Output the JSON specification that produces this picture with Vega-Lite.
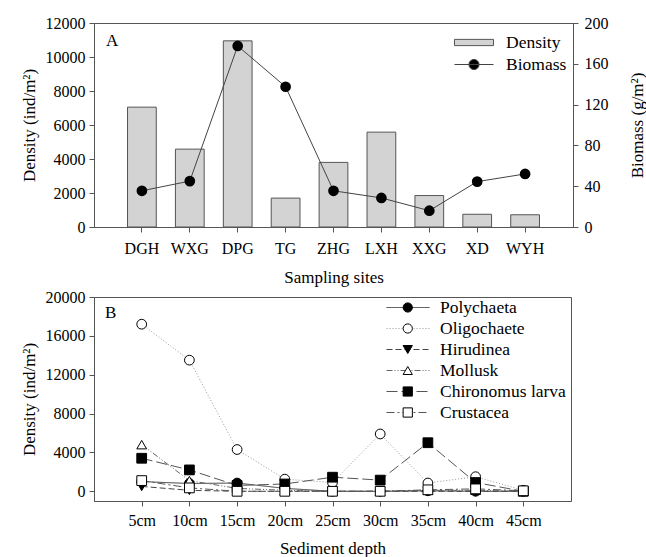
{
  "$schema": "https://vega.github.io/schema/vega-lite/v6.json",
  "background": "white",
  "padding": {"left": 19, "top": 14, "right": 0, "bottom": 5},
  "spacing": 2,
  "resolve": {
    "scale": {"fill": "independent", "stroke": "independent", "strokeDash": "independent", "shape": "independent"},
    "legend": {"fill": "independent", "stroke": "independent", "strokeDash": "independent", "shape": "independent"}
  },
  "config": {
    "font": "Liberation Serif",
    "view": {"stroke": "#555", "strokeWidth": 1},
    "axis": {
      "grid": false,
      "domainColor": "#555",
      "tickColor": "#555",
      "tickSize": 5,
      "labelColor": "#000",
      "titleColor": "#000",
      "labelFont": "Liberation Serif",
      "titleFont": "Liberation Serif",
      "labelFontSize": 16,
      "titleFontSize": 17,
      "titleFontWeight": "normal"
    },
    "legend": {
      "labelFont": "Liberation Serif",
      "labelFontSize": 17.5,
      "labelColor": "#000"
    },
    "title": {"font": "Liberation Serif", "fontSize": 17, "fontWeight": "normal", "color": "#000"}
  },
  "vconcat": [
    {
      "width": 479,
      "height": 204,
      "title": {"text": "A", "anchor": "start", "frame": "group", "offset": -35, "dx": 12},
      "data": {
        "values": [
          {"site": "DGH", "density": 7050, "biomass": 35.5},
          {"site": "WXG", "density": 4580, "biomass": 45},
          {"site": "DPG", "density": 10950, "biomass": 177.5},
          {"site": "TG", "density": 1700, "biomass": 137.5},
          {"site": "ZHG", "density": 3800, "biomass": 35.5},
          {"site": "LXH", "density": 5580, "biomass": 28.5},
          {"site": "XXG", "density": 1850, "biomass": 16},
          {"site": "XD", "density": 750, "biomass": 44.5},
          {"site": "WYH", "density": 720, "biomass": 52}
        ]
      },
      "encoding": {
        "x": {
          "field": "site",
          "type": "nominal",
          "sort": null,
          "scale": {"paddingInner": 0.4, "paddingOuter": 0.7},
          "axis": {"title": "Sampling sites", "labelAngle": 0, "labelPadding": 8, "titlePadding": 13}
        }
      },
      "layer": [
        {
          "mark": {"type": "bar", "stroke": "#555", "strokeWidth": 1},
          "encoding": {
            "y": {
              "field": "density",
              "type": "quantitative",
              "scale": {"domain": [0, 12000], "nice": false},
              "axis": {"title": "Density (ind/m²)", "format": "d", "values": [0, 2000, 4000, 6000, 8000, 10000, 12000], "labelPadding": 4, "titlePadding": 7}
            },
            "fill": {
              "datum": "Density",
              "type": "nominal",
              "scale": {"range": ["#d3d3d3"]},
              "legend": {
                "title": null,
                "orient": "none",
                "legendX": 360,
                "legendY": 11,
                "padding": 0,
                "symbolType": "M-1,-0.16H1V0.16H-1Z",
                "symbolSize": 1521,
                "symbolStrokeColor": "#555",
                "symbolStrokeWidth": 1,
                "clipHeight": 17,
                "labelOffset": 12
              }
            }
          }
        },
        {
          "encoding": {
            "y": {
              "field": "biomass",
              "type": "quantitative",
              "scale": {"domain": [0, 200], "nice": false},
              "axis": {"orient": "right", "title": "Biomass (g/m²)", "titleAngle": -90, "values": [0, 40, 80, 120, 160, 200], "labelPadding": 6, "titlePadding": 38}
            }
          },
          "layer": [
            {"mark": {"type": "line", "color": "#444", "strokeWidth": 1}, "encoding": {}},
            {
              "mark": {"type": "point", "shape": "circle", "filled": true, "fill": "#000", "size": 115, "opacity": 1, "strokeWidth": 0},
              "encoding": {
                "stroke": {
                  "datum": "Biomass",
                  "type": "nominal",
                  "scale": {"range": ["#444444"]},
                  "legend": {
                    "title": null,
                    "orient": "none",
                    "legendX": 360,
                    "legendY": 33,
                    "padding": 0,
                    "symbolType": "M-1,0H1M-0.26,0A0.26,0.26,0,1,1,0.26,0A0.26,0.26,0,1,1,-0.26,0Z",
                    "symbolSize": 1521,
                    "symbolFillColor": "#000",
                    "symbolStrokeWidth": 1,
                    "clipHeight": 17,
                    "labelOffset": 12
                  }
                }
              }
            }
          ]
        }
      ],
      "resolve": {"scale": {"y": "independent"}}
    },
    {
      "width": 477,
      "height": 204,
      "title": {"text": "B", "anchor": "start", "frame": "group", "offset": -33, "dx": 11},
      "data": {
        "values": [
          {"depth": "5cm", "taxon": "Polychaeta", "density": 1000},
          {"depth": "10cm", "taxon": "Polychaeta", "density": 800},
          {"depth": "15cm", "taxon": "Polychaeta", "density": 850},
          {"depth": "20cm", "taxon": "Polychaeta", "density": 300},
          {"depth": "25cm", "taxon": "Polychaeta", "density": 0},
          {"depth": "30cm", "taxon": "Polychaeta", "density": 0},
          {"depth": "35cm", "taxon": "Polychaeta", "density": 50},
          {"depth": "40cm", "taxon": "Polychaeta", "density": 0},
          {"depth": "45cm", "taxon": "Polychaeta", "density": 0},
          {"depth": "5cm", "taxon": "Oligochaete", "density": 17200},
          {"depth": "10cm", "taxon": "Oligochaete", "density": 13500},
          {"depth": "15cm", "taxon": "Oligochaete", "density": 4300},
          {"depth": "20cm", "taxon": "Oligochaete", "density": 1250},
          {"depth": "25cm", "taxon": "Oligochaete", "density": 900},
          {"depth": "30cm", "taxon": "Oligochaete", "density": 5900},
          {"depth": "35cm", "taxon": "Oligochaete", "density": 850},
          {"depth": "40cm", "taxon": "Oligochaete", "density": 1500},
          {"depth": "45cm", "taxon": "Oligochaete", "density": 100},
          {"depth": "5cm", "taxon": "Hirudinea", "density": 500},
          {"depth": "10cm", "taxon": "Hirudinea", "density": 100},
          {"depth": "15cm", "taxon": "Hirudinea", "density": 0},
          {"depth": "20cm", "taxon": "Hirudinea", "density": 0},
          {"depth": "25cm", "taxon": "Hirudinea", "density": 0},
          {"depth": "30cm", "taxon": "Hirudinea", "density": 0},
          {"depth": "35cm", "taxon": "Hirudinea", "density": 0},
          {"depth": "40cm", "taxon": "Hirudinea", "density": 0},
          {"depth": "45cm", "taxon": "Hirudinea", "density": 0},
          {"depth": "5cm", "taxon": "Mollusk", "density": 4800},
          {"depth": "10cm", "taxon": "Mollusk", "density": 1100},
          {"depth": "15cm", "taxon": "Mollusk", "density": 300},
          {"depth": "20cm", "taxon": "Mollusk", "density": 100},
          {"depth": "25cm", "taxon": "Mollusk", "density": 0},
          {"depth": "30cm", "taxon": "Mollusk", "density": 0},
          {"depth": "35cm", "taxon": "Mollusk", "density": 100},
          {"depth": "40cm", "taxon": "Mollusk", "density": 100},
          {"depth": "45cm", "taxon": "Mollusk", "density": 0},
          {"depth": "5cm", "taxon": "Chironomus larva", "density": 3400},
          {"depth": "10cm", "taxon": "Chironomus larva", "density": 2200},
          {"depth": "15cm", "taxon": "Chironomus larva", "density": 600},
          {"depth": "20cm", "taxon": "Chironomus larva", "density": 750},
          {"depth": "25cm", "taxon": "Chironomus larva", "density": 1450},
          {"depth": "30cm", "taxon": "Chironomus larva", "density": 1150},
          {"depth": "35cm", "taxon": "Chironomus larva", "density": 5000},
          {"depth": "40cm", "taxon": "Chironomus larva", "density": 900},
          {"depth": "45cm", "taxon": "Chironomus larva", "density": 0},
          {"depth": "5cm", "taxon": "Crustacea", "density": 1100},
          {"depth": "10cm", "taxon": "Crustacea", "density": 350},
          {"depth": "15cm", "taxon": "Crustacea", "density": 0},
          {"depth": "20cm", "taxon": "Crustacea", "density": 0},
          {"depth": "25cm", "taxon": "Crustacea", "density": 0},
          {"depth": "30cm", "taxon": "Crustacea", "density": 0},
          {"depth": "35cm", "taxon": "Crustacea", "density": 150},
          {"depth": "40cm", "taxon": "Crustacea", "density": 250},
          {"depth": "45cm", "taxon": "Crustacea", "density": 50}
        ]
      },
      "encoding": {
        "x": {
          "field": "depth",
          "type": "nominal",
          "sort": null,
          "scale": {"type": "point", "padding": 1},
          "axis": {"title": "Sediment depth", "labelAngle": 0, "labelPadding": 6, "titlePadding": 12}
        },
        "y": {
          "field": "density",
          "type": "quantitative",
          "scale": {"domain": [-1000, 20000], "nice": false, "zero": false},
          "axis": {"title": "Density (ind/m²)", "format": "d", "values": [0, 4000, 8000, 12000, 16000, 20000], "labelPadding": 4, "titlePadding": 7}
        }
      },
      "layer": [
        {
          "mark": {"type": "line", "strokeWidth": 1},
          "encoding": {
            "detail": {"field": "taxon", "type": "nominal"},
            "stroke": {
              "field": "taxon",
              "type": "nominal",
              "scale": {
                "domain": ["Polychaeta", "Oligochaete", "Hirudinea", "Mollusk", "Chironomus larva", "Crustacea"],
                "range": ["#333333", "#999999", "#444444", "#666666", "#555555", "#555555"]
              },
              "legend": {
                "title": null,
                "orient": "none",
                "legendX": 292,
                "legendY": 2,
                "padding": 0,
                "symbolType": "stroke",
                "symbolSize": 1849,
                "symbolStrokeWidth": 1,
                "clipHeight": 17,
                "rowPadding": 3,
                "labelOffset": 10
              }
            },
            "strokeDash": {
              "field": "taxon",
              "type": "nominal",
              "scale": {
                "domain": ["Polychaeta", "Oligochaete", "Hirudinea", "Mollusk", "Chironomus larva", "Crustacea"],
                "range": [[1, 0], [1, 2], [6, 3], [6, 2, 1, 2, 1, 2], [11, 4], [8, 3, 2, 3]]
              },
              "legend": {
                "title": null,
                "orient": "none",
                "legendX": 292,
                "legendY": 2,
                "padding": 0,
                "symbolType": "stroke",
                "symbolSize": 1849,
                "symbolStrokeWidth": 1,
                "clipHeight": 17,
                "rowPadding": 3,
                "labelOffset": 10
              }
            }
          }
        },
        {
          "mark": {"type": "point", "filled": true, "size": 95, "opacity": 1, "stroke": "#000", "strokeWidth": 1},
          "encoding": {
            "shape": {
              "field": "taxon",
              "type": "nominal",
              "sort": ["Polychaeta", "Oligochaete", "Hirudinea", "Mollusk", "Chironomus larva", "Crustacea"],
              "scale": {"range": ["circle", "circle", "triangle-down", "triangle-up", "square", "square"]},
              "legend": {
                "title": null,
                "orient": "none",
                "legendX": 305,
                "legendY": 2,
                "padding": 0,
                "symbolSize": 85,
                "symbolFillColor": {"expr": "indexof(['Polychaeta', 'Hirudinea', 'Chironomus larva'], datum.value) >= 0 ? '#000000' : '#ffffff'"},
                "symbolStrokeColor": "#000000",
                "symbolStrokeWidth": 1,
                "clipHeight": 17,
                "rowPadding": 3,
                "labelOffset": 0,
                "labelFontSize": 17.5,
                "labelExpr": "''"
              }
            },
            "fill": {
              "field": "taxon",
              "type": "nominal",
              "sort": ["Polychaeta", "Oligochaete", "Hirudinea", "Mollusk", "Chironomus larva", "Crustacea"],
              "scale": {"range": ["#000000", "#ffffff", "#000000", "#ffffff", "#000000", "#ffffff"]},
              "legend": null
            }
          }
        }
      ]
    }
  ]
}
